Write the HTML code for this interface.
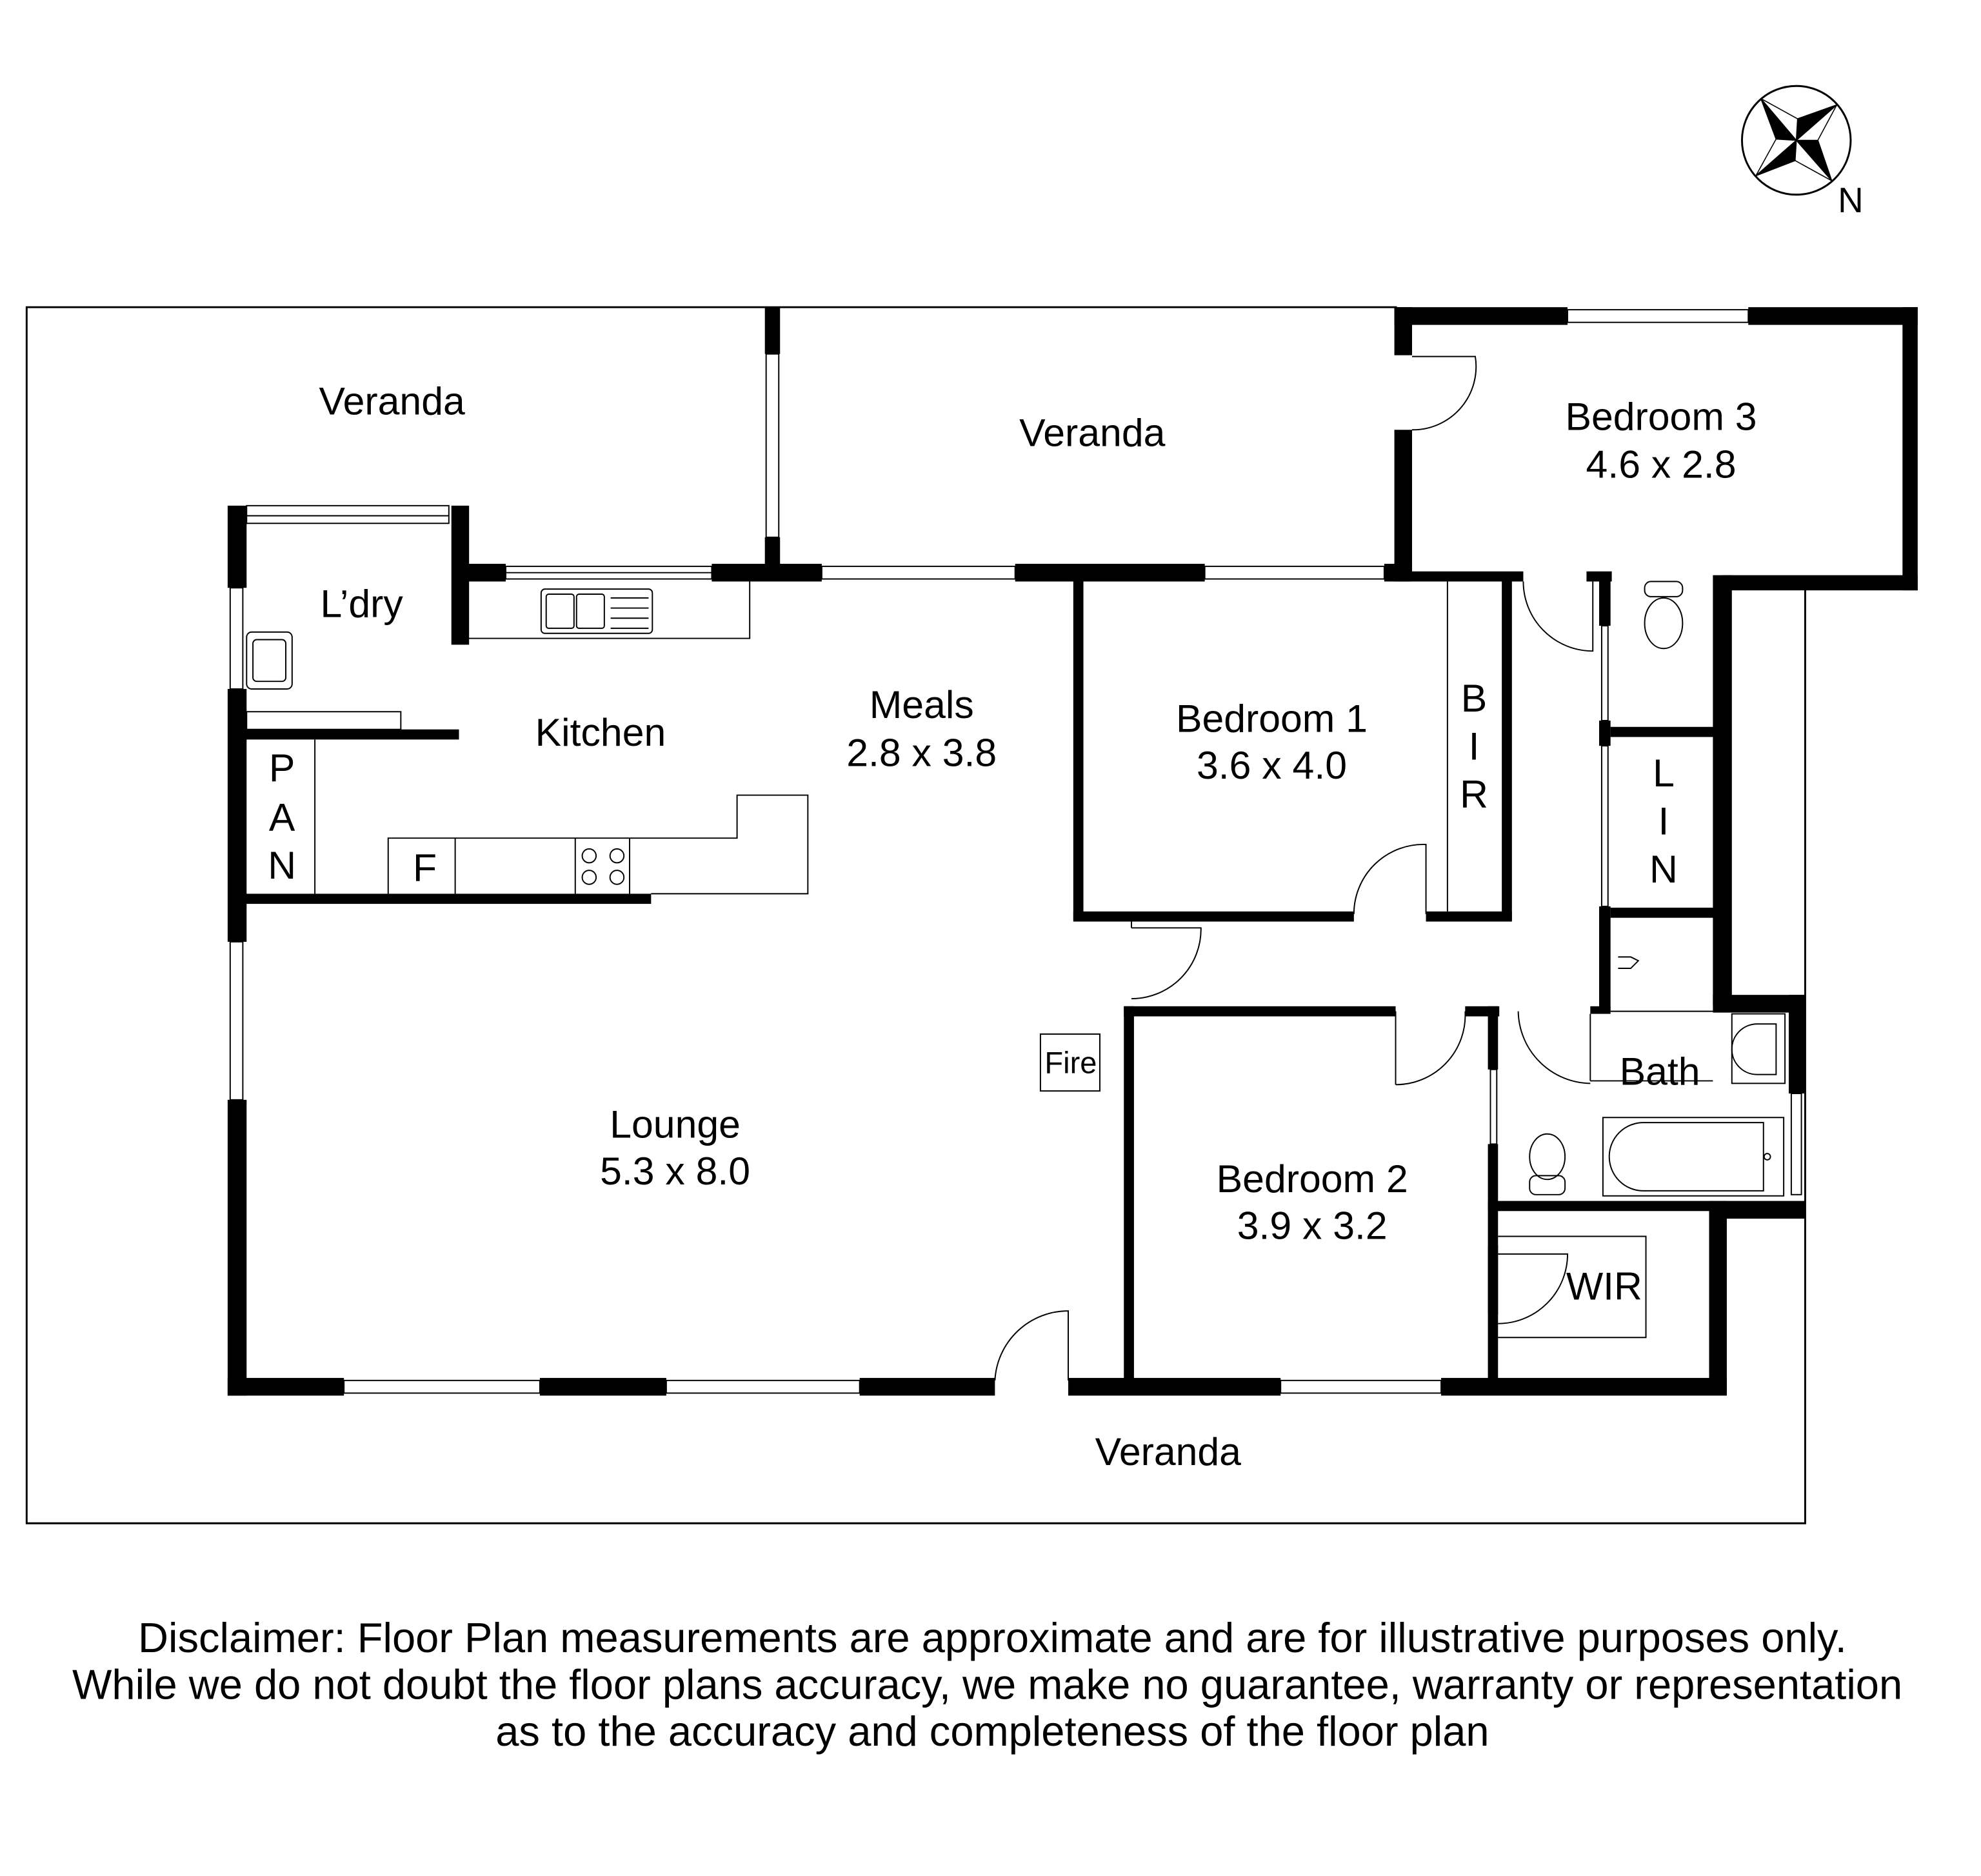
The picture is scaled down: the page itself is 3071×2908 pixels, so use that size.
<!DOCTYPE html>
<html><head><meta charset="utf-8"><style>
html,body{margin:0;padding:0;background:#fff}
svg{display:block}
text{font-family:"Liberation Sans",sans-serif;fill:#000}
</style></head><body>
<svg width="3071" height="2908" viewBox="0 0 1567 1484" xmlns="http://www.w3.org/2000/svg">
<rect width="1567" height="1484" fill="#fff"/>
<g fill="none" stroke="#000" stroke-width="1.5">
<polyline points="1105,243 21,243 21,1205 1428,1205 1428,465"/>
</g>
<g fill="#000">
<rect x="605" y="243" width="12" height="37"/>
<rect x="605" y="425" width="12" height="30"/>
<rect x="1103" y="243" width="137" height="14"/>
<rect x="1383" y="243" width="134" height="14"/>
<rect x="1505" y="243" width="12" height="224"/>
<rect x="1362" y="455" width="155" height="12"/>
<rect x="1103" y="243" width="14" height="38"/>
<rect x="1103" y="340" width="14" height="120"/>
<rect x="358" y="446" width="42" height="14"/>
<rect x="563" y="446" width="87" height="14"/>
<rect x="803" y="446" width="150" height="14"/>
<rect x="1095" y="446" width="22" height="14"/>
<rect x="1117" y="452" width="88" height="8"/>
<rect x="1255" y="452" width="20" height="8"/>
<rect x="180" y="400" width="15" height="65"/>
<rect x="180" y="545" width="15" height="200"/>
<rect x="180" y="870" width="15" height="234"/>
<rect x="357" y="400" width="14" height="110"/>
<rect x="193" y="577" width="170" height="8"/>
<rect x="193" y="707" width="322" height="8"/>
<rect x="180" y="1090" width="92" height="14"/>
<rect x="427" y="1090" width="100" height="14"/>
<rect x="680" y="1090" width="107" height="14"/>
<rect x="845" y="1090" width="168" height="14"/>
<rect x="1140" y="1090" width="226" height="14"/>
<rect x="849" y="458" width="8" height="270"/>
<rect x="849" y="721" width="222" height="8"/>
<rect x="1128" y="721" width="68" height="8"/>
<rect x="1188" y="458" width="8" height="270"/>
<rect x="889" y="796" width="215" height="8"/>
<rect x="1159" y="796" width="27" height="8"/>
<rect x="889" y="796" width="8" height="300"/>
<rect x="1177" y="796" width="8" height="50"/>
<rect x="1177" y="905" width="8" height="190"/>
<rect x="1177" y="950" width="185" height="8"/>
<rect x="1177" y="985" width="8" height="55"/>
<rect x="1352" y="950" width="14" height="150"/>
<rect x="1362" y="950" width="66" height="14"/>
<rect x="1265" y="455" width="9" height="40"/>
<rect x="1265" y="570" width="9" height="20"/>
<rect x="1265" y="717" width="9" height="83"/>
<rect x="1274" y="575" width="84" height="8"/>
<rect x="1274" y="718" width="84" height="8"/>
<rect x="1355" y="455" width="15" height="340"/>
<rect x="1355" y="787" width="73" height="14"/>
<rect x="1415" y="787" width="13" height="78"/>
<rect x="1258" y="796" width="16" height="6"/>
</g>
<g fill="none" stroke="#000" stroke-width="1">
<rect x="400" y="448" width="163" height="10"/>
<line x1="400" y1="453" x2="563" y2="453"/>
<rect x="650" y="448" width="153" height="10"/>
<rect x="953" y="448" width="142" height="10"/>
<rect x="1240" y="245" width="143" height="10"/>
<rect x="195" y="400" width="160" height="14"/>
<line x1="195" y1="408" x2="355" y2="408"/>
<rect x="606" y="280" width="10" height="145"/>
<rect x="182" y="465" width="10" height="80"/>
<rect x="182" y="745" width="10" height="125"/>
<rect x="272" y="1092" width="155" height="10"/>
<rect x="527" y="1092" width="153" height="10"/>
<rect x="1013" y="1092" width="127" height="10"/>
<rect x="1179" y="846" width="5" height="59"/>
<rect x="1267" y="495" width="5" height="75"/>
<rect x="1267" y="590" width="5" height="127"/>
<rect x="1417" y="865" width="8" height="80"/>
<polyline points="365,460 365,505 593,505 593,460"/>
<rect x="428" y="466" width="88" height="35" rx="3"/>
<rect x="432" y="470" width="22" height="27" rx="2"/>
<rect x="456" y="470" width="22" height="27" rx="2"/>
<line x1="483" y1="473" x2="513" y2="473"/><line x1="483" y1="481" x2="513" y2="481"/><line x1="483" y1="489" x2="513" y2="489"/><line x1="483" y1="497" x2="513" y2="497"/>
<rect x="195" y="563" width="122" height="14"/>
<rect x="195" y="500" width="36" height="45" rx="4"/>
<rect x="200" y="506" width="26" height="33" rx="3"/>
<line x1="249" y1="585" x2="249" y2="707"/>
<polyline points="307,707 307,663 583,663 583,629 639,629 639,707 515,707"/>
<line x1="360" y1="663" x2="360" y2="707"/>
<line x1="455" y1="663" x2="455" y2="707"/>
<line x1="498" y1="663" x2="498" y2="707"/>
<circle cx="466" cy="677" r="5.5"/><circle cx="488" cy="677" r="5.5"/><circle cx="466" cy="694" r="5.5"/><circle cx="488" cy="694" r="5.5"/>
<rect x="823" y="818" width="47" height="45"/>
<line x1="1145" y1="460" x2="1145" y2="721"/>
<polyline points="1185,978 1302,978 1302,1058 1185,1058"/>
<rect x="1268" y="884" width="143" height="62"/>
<path d="M1300,888 L1395,888 L1395,942 L1300,942 A27,27 0 0 1 1300,888 Z"/>
<circle cx="1398" cy="915" r="2.5"/>
<rect x="1370" y="802" width="42" height="55"/>
<path d="M1405,810 L1390,810 A20,20 0 0 0 1390,850 L1405,850 Z"/>
<line x1="1258" y1="802" x2="1258" y2="855"/>
<line x1="1258" y1="855" x2="1355" y2="855"/>
<line x1="1274" y1="800" x2="1355" y2="800"/>
<ellipse cx="1316" cy="493" rx="15" ry="20"/><rect x="1301" y="460" width="30" height="12" rx="5"/>
<ellipse cx="1224" cy="915" rx="14" ry="18"/><rect x="1210" y="930" width="28" height="15" rx="5"/>
<path d="M1280,757 L1290,757 L1296,760 L1290,766 L1280,766"/>
<path d="M1117,282 L1167,282 A50,50 0 0 1 1117,340"/>
<path d="M1205,460 A55,55 0 0 0 1260,515 L1260,460"/>
<path d="M1071,723 A55,55 0 0 1 1128,668 L1128,723"/>
<path d="M895,734 L950,734 A55,55 0 0 1 895,790"/>
<line x1="895" y1="729" x2="895" y2="734"/>
<path d="M1104,858 L1104,800 M1104,858 A55,55 0 0 0 1159,800"/>
<path d="M1201,800 A58,58 0 0 0 1258,857"/>
<path d="M787,1092 A58,58 0 0 1 845,1037 L845,1092"/>
<path d="M1185,1047 A55,55 0 0 0 1240,992 L1185,992"/>
</g>
<g font-size="31" text-anchor="middle">
<text x="310" y="328">Veranda</text>
<text x="864" y="353">Veranda</text>
<text x="924" y="1159">Veranda</text>
<text x="1314" y="340">Bedroom 3</text>
<text x="1314" y="378">4.6 x 2.8</text>
<text x="286" y="488">L’dry</text>
<text x="475" y="590">Kitchen</text>
<text x="729" y="568">Meals</text>
<text x="729" y="606">2.8 x 3.8</text>
<text x="1006" y="579">Bedroom 1</text>
<text x="1006" y="616">3.6 x 4.0</text>
<text x="1038" y="943">Bedroom 2</text>
<text x="1038" y="980">3.9 x 3.2</text>
<text x="534" y="900">Lounge</text>
<text x="534" y="937">5.3 x 8.0</text>
<text x="1313" y="858">Bath</text>
<text x="1269" y="1028">WIR</text>
<text x="336" y="697">F</text>
<text x="223" y="618">P</text><text x="223" y="657">A</text><text x="223" y="695">N</text>
<text x="1166" y="563">B</text><text x="1166" y="601">I</text><text x="1166" y="639">R</text>
<text x="1316" y="622">L</text><text x="1316" y="660">I</text><text x="1316" y="698">N</text>
<text x="847" y="849" font-size="24">Fire</text>
<text x="1464" y="168" font-size="28">N</text>
</g>
<g transform="translate(1421,111)" stroke="#000" stroke-width="0.8" stroke-linejoin="round">
<circle r="43" fill="none" stroke-width="1.5"/>
<polygon points="-28,-33 1,-17 32,-28 17,0 28,32 -1,16 -32,28 -16,-1" fill="#fff"/>
<polygon points="-28,-33 0,0 -16,-1" fill="#000"/>
<polygon points="32,-28 0,0 1,-17" fill="#000"/>
<polygon points="28,32 0,0 17,0" fill="#000"/>
<polygon points="-32,28 0,0 -1,16" fill="#000"/>
</g>
<g font-size="33.2" text-anchor="middle">
<text x="785" y="1307">Disclaimer: Floor Plan measurements are approximate and are for illustrative purposes only.</text>
<text x="781" y="1344">While we do not doubt the floor plans accuracy, we make no guarantee, warranty or representation</text>
<text x="785" y="1381">as to the accuracy and completeness of the floor plan</text>
</g>
</svg>
</body></html>
